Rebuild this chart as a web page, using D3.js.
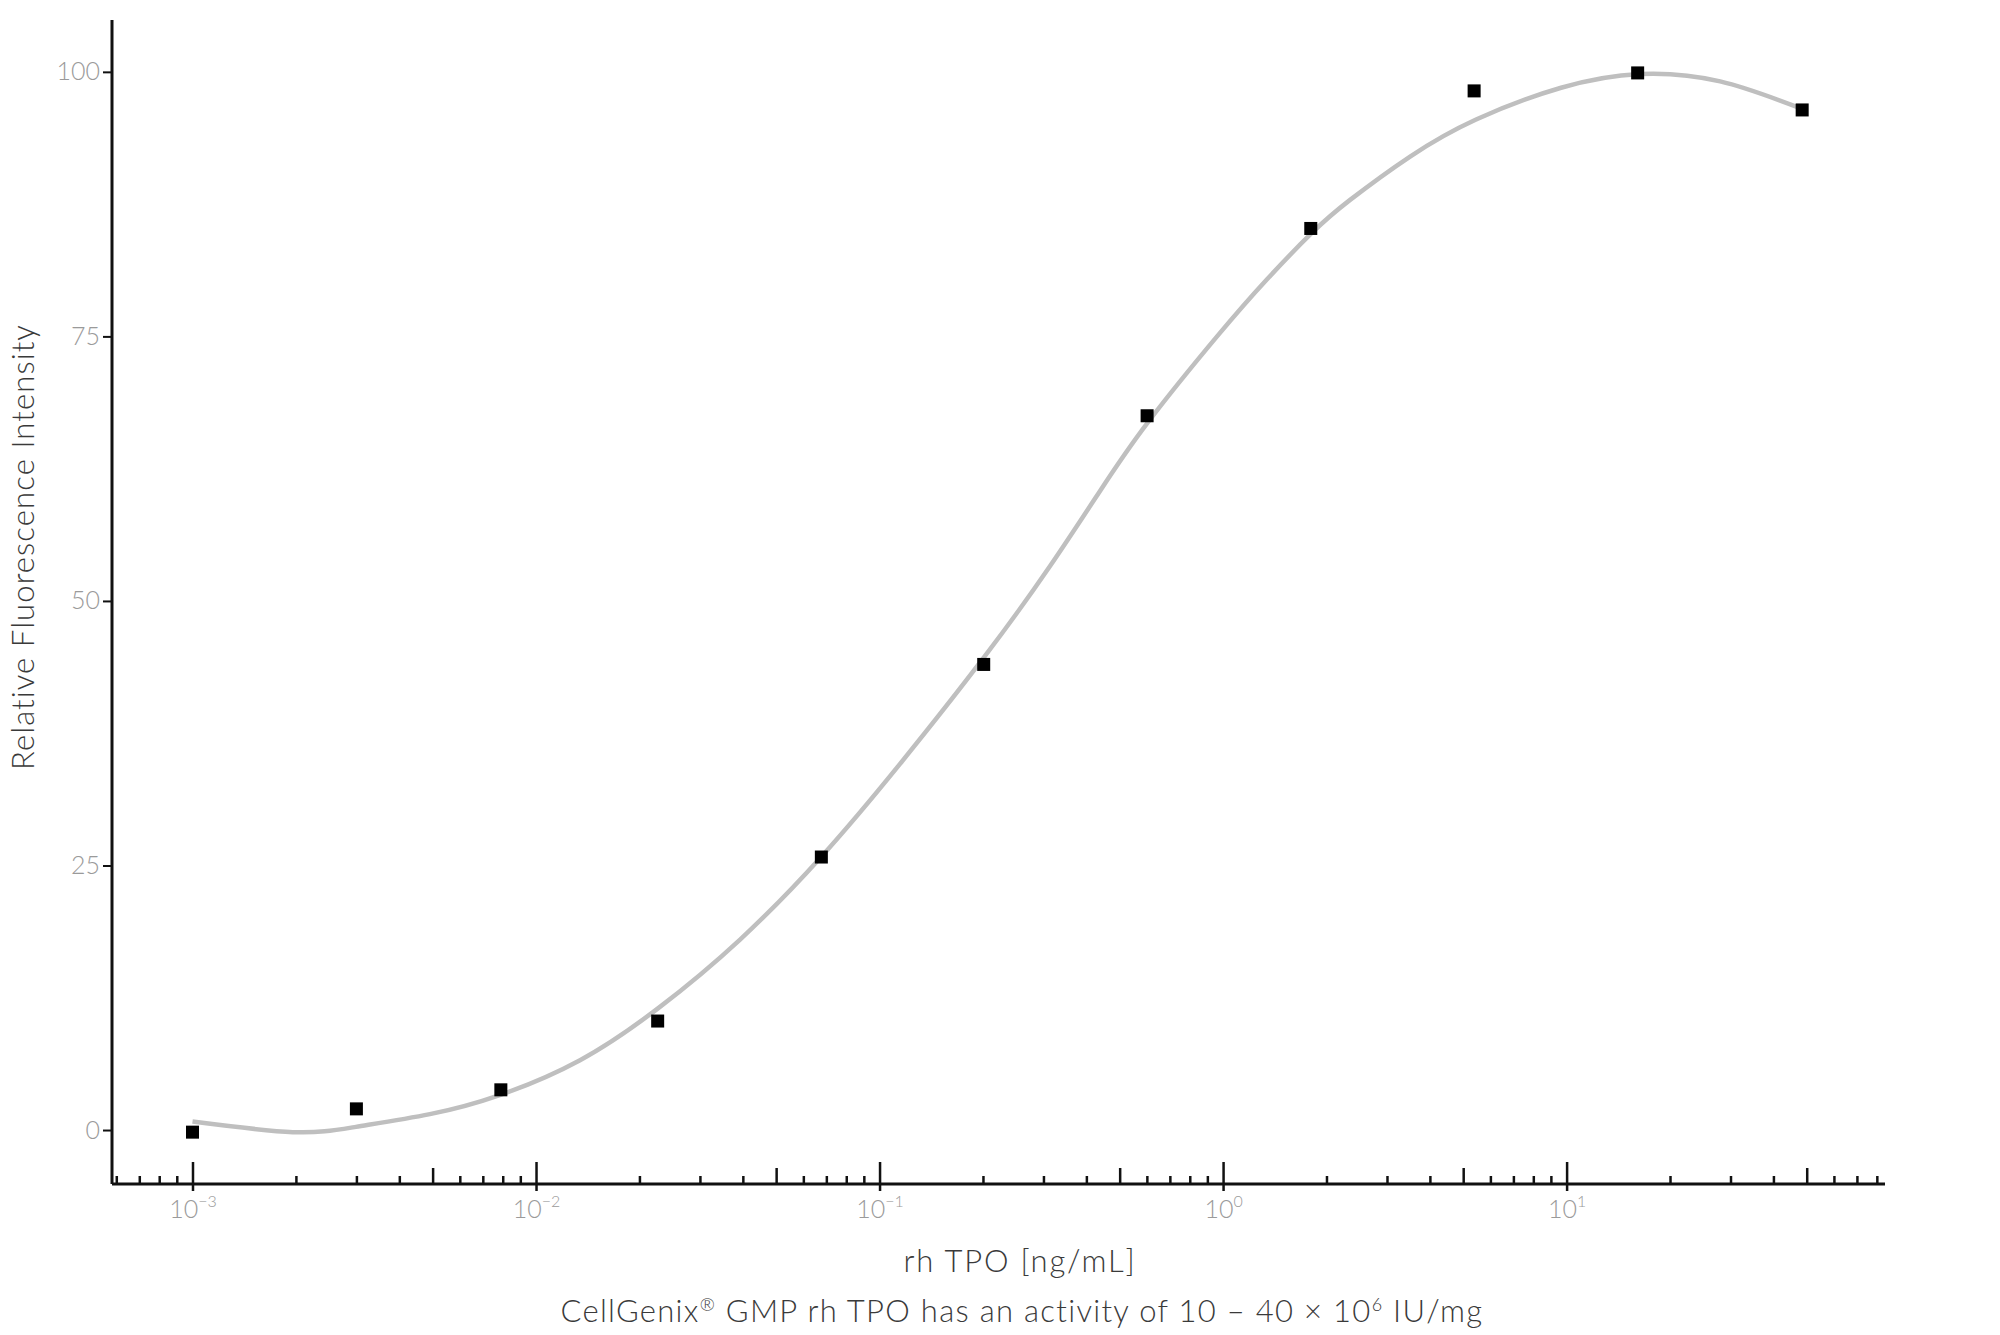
<!DOCTYPE html>
<html>
<head>
<meta charset="utf-8">
<script src="https://cdn.jsdelivr.net/npm/d3@7"></script>
<style>
  html, body { margin: 0; padding: 0; background: #fff; }
  svg { display: block; }
  text { font-family: "Lato", "Open Sans", sans-serif; font-weight: 300; }
</style>
</head>
<body>
<svg id="chart" width="2000" height="1335"></svg>
<script>
// ---- data ----
const pointConc  = [0.001, 0.003, 0.0079, 0.0226, 0.0677, 0.201, 0.601, 1.80, 5.38, 16.1, 48.5];
const pointValue = [-0.2, 2.0, 3.8, 10.3, 25.8, 44.0, 67.5, 85.2, 98.2, 99.9, 96.4];

const curveConc  = [0.001, 0.00196, 0.00299, 0.00491, 0.00784, 0.01343, 0.02265, 0.03926, 0.0680, 0.1147,
                    0.2028, 0.3136, 0.4384, 0.6049, 0.9605, 1.343, 1.816, 2.343, 3.503, 5.451,
                    9.638, 16.37, 27.99, 48.5];
const curveValue = [0.8, -0.2, 0.3, 1.5, 3.3, 6.6, 11.5, 18.0, 25.9, 34.6,
                    44.8, 53.3, 60.4, 66.9, 75.0, 80.4, 84.8, 87.9, 92.0, 95.5,
                    98.5, 99.8, 99.1, 96.5];

const yTicks = [0, 25, 50, 75, 100];
const xMajorTicks = [1e-3, 1e-2, 1e-1, 1e0, 1e1];
const xMajorExp = ["\u22123", "\u22122", "\u22121", "0", "1"];
const xMinorMult = [2, 3, 4, 6, 7, 8, 9];
const xMidMult = [5];

const xTitle = "rh TPO [ng/mL]";
const yTitle = "Relative Fluorescence Intensity";
const caption = ["CellGenix", "\u00AE", " GMP rh TPO has an activity of 10 \u2013 40 \u00D7 10", "6", " IU/mg"];

// ---- layout ----
const svg = d3.select("#chart");
const x0 = 112, x1 = 1885;
const yTop = 20, yBase = 1184;
const xMin = 5.83e-4, xMax = 84.5;

const x = d3.scaleLog().domain([xMin, xMax]).range([x0, x1]);
const y = d3.scaleLinear().domain([-5.1, 104.9]).range([yBase, yTop]);

// minor tick values
const minorVals = [], midVals = [];
[6e-4, 7e-4, 8e-4, 9e-4].forEach(v => minorVals.push(v));
for (let e = -3; e <= 1; e++) {
  xMinorMult.forEach(m => { const v = m * Math.pow(10, e); if (v <= xMax) minorVals.push(v); });
  xMidMult.forEach(m => { const v = m * Math.pow(10, e); if (v <= xMax) midVals.push(v); });
}

const axisColor = "#111";
const labelColor = "#9a9a9a";
const titleColor = "#3a3a3a";

// x axis pieces
const gx = svg.append("g").attr("transform", `translate(0,${yBase})`);
function styleAxis(g) {
  g.selectAll("path.domain").attr("stroke", axisColor).attr("stroke-width", 3);
  g.selectAll(".tick line").attr("stroke", axisColor).attr("stroke-width", 2.5);
}
gx.append("g").call(d3.axisBottom(x).tickValues(minorVals).tickSize(-8).tickSizeOuter(0).tickFormat(""))
  .call(g => g.select("path.domain").remove()).call(styleAxis);
gx.append("g").call(d3.axisBottom(x).tickValues(midVals).tickSize(-16).tickSizeOuter(0).tickFormat(""))
  .call(g => g.select("path.domain").remove()).call(styleAxis);
gx.append("g").call(d3.axisBottom(x).tickValues(xMajorTicks).tickSize(-22).tickSizeOuter(0).tickFormat(""))
  .call(g => g.select("path.domain").remove()).call(styleAxis);
const gxMain = gx.append("g").call(d3.axisBottom(x).tickValues(xMajorTicks).tickSize(7).tickSizeOuter(0).tickFormat(""))
  .call(styleAxis);
gxMain.select("path.domain").attr("d", `M${x0},0H${x1}`);

// x tick labels (10^n)
gxMain.selectAll(".tick").each(function(d, i) {
  const t = d3.select(this).append("text")
    .attr("y", 34).attr("text-anchor", "middle")
    .attr("fill", labelColor).attr("font-size", 25);
  t.append("tspan").text("10");
  t.append("tspan").attr("dy", -11).attr("font-size", 16).text(xMajorExp[i]);
});

// y axis
const gy = svg.append("g").attr("transform", `translate(${x0},0)`)
  .call(d3.axisLeft(y).tickValues(yTicks).tickSize(9).tickSizeOuter(0).tickPadding(3));
gy.select("path.domain").attr("d", `M0,${yTop}V${yBase}`).attr("stroke", axisColor).attr("stroke-width", 3);
gy.selectAll(".tick line").attr("stroke", axisColor).attr("stroke-width", 2);
gy.selectAll(".tick text").attr("fill", labelColor).attr("font-size", 25)
  .attr("font-family", '"Lato", sans-serif').attr("font-weight", 300);

// fitted curve
const curveData = curveConc.map((c, i) => [c, curveValue[i]]);
svg.append("path")
  .datum(curveData)
  .attr("fill", "none")
  .attr("stroke", "#bfbfbf")
  .attr("stroke-width", 4.5)
  .attr("stroke-linecap", "butt")
  .attr("d", d3.line().x(d => x(d[0])).y(d => y(d[1])).curve(d3.curveNatural));

// points
const sq = 13;
svg.append("g").selectAll("rect")
  .data(pointConc.map((c, i) => [c, pointValue[i]]))
  .join("rect")
  .attr("x", d => x(d[0]) - sq / 2)
  .attr("y", d => y(d[1]) - sq / 2)
  .attr("width", sq).attr("height", sq)
  .attr("fill", "#000");

// titles
svg.append("text")
  .attr("x", 1020).attr("y", 1272)
  .attr("text-anchor", "middle").attr("font-size", 31).attr("letter-spacing", 1.8)
  .attr("fill", titleColor)
  .text(xTitle);

svg.append("text")
  .attr("transform", "translate(34,547) rotate(-90)")
  .attr("text-anchor", "middle").attr("font-size", 31).attr("letter-spacing", 1.1)
  .attr("fill", titleColor)
  .text(yTitle);

const cap = svg.append("text")
  .attr("x", 1022).attr("y", 1322)
  .attr("text-anchor", "middle").attr("font-size", 31).attr("letter-spacing", 1.3)
  .attr("fill", titleColor);
cap.append("tspan").text(caption[0]);
cap.append("tspan").attr("dy", -11).attr("font-size", 18).text(caption[1]);
cap.append("tspan").attr("dy", 11).text(caption[2]);
cap.append("tspan").attr("dy", -11).attr("font-size", 18).text(caption[3]);
cap.append("tspan").attr("dy", 11).text(caption[4]);
</script>
</body>
</html>
